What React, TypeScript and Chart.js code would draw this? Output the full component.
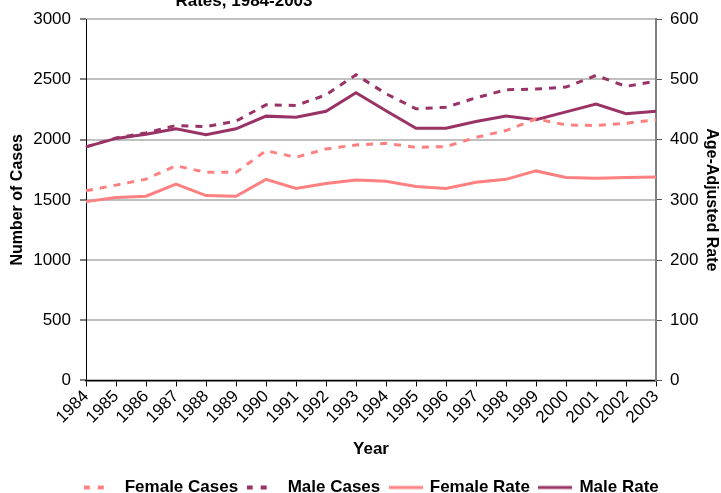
import React, { useEffect, useRef } from "react";
import { Chart, registerables } from "chart.js";

Chart.register(...registerables);

const years = ["1984","1985","1986","1987","1988","1989","1990","1991","1992","1993","1994","1995","1996","1997","1998","1999","2000","2001","2002","2003"];
const femaleCases = [1575, 1622, 1672, 1783, 1728, 1728, 1908, 1853, 1922, 1956, 1969, 1936, 1942, 2019, 2075, 2172, 2122, 2117, 2136, 2164];
const maleCases = [1940, 2014, 2056, 2117, 2108, 2153, 2289, 2283, 2372, 2539, 2381, 2256, 2269, 2347, 2414, 2420, 2436, 2533, 2442, 2486];
const femaleRate = [297, 304, 306, 326, 307, 306, 334, 319, 327, 333, 331, 322, 319, 329, 334, 348, 337, 336, 337, 338];
const maleRate = [388, 402, 409, 418, 408, 418, 439, 437, 447, 478, 448, 419, 419, 430, 439, 433, 446, 459, 443, 447];
const titleText = "Rates, 1984-2003";

const PINK = "#FF8080";
const PURPLE = "#993366";
const FONT = "'Liberation Sans', Arial, Helvetica, sans-serif";

function makeMarker(color: string, dashed: boolean): HTMLCanvasElement {
  const c = document.createElement("canvas");
  c.width = 34;
  c.height = 6;
  const ctx = c.getContext("2d")!;
  ctx.fillStyle = color;
  if (dashed) {
    ctx.fillRect(0, 1, 6, 4);
    ctx.fillRect(14, 1, 6, 4);
  } else {
    ctx.fillRect(0, 1.5, 34, 3);
  }
  return c;
}

const titlePlugin = {
  id: "topTitle",
  afterDraw(chart: any) {
    const ctx = chart.ctx;
    ctx.save();
    ctx.font = `bold 17px ${FONT}`;
    ctx.fillStyle = "#000";
    ctx.textAlign = "center";
    ctx.textBaseline = "alphabetic";
    ctx.fillText(titleText, 244, 6);
    ctx.restore();
  },
};

export default function App() {
  const ref = useRef<HTMLCanvasElement>(null);
  useEffect(() => {
    document.body.style.margin = "0";
    const markers = [
      makeMarker(PINK, true),
      makeMarker(PURPLE, true),
      makeMarker(PINK, false),
      makeMarker(PURPLE, false),
    ];
    const chart = new Chart(ref.current!, {
      type: "line",
      data: {
        labels: years,
        datasets: [
          { label: "Female Cases", data: femaleCases, yAxisID: "y", borderColor: PINK, backgroundColor: PINK, borderWidth: 3, borderDash: [7, 7], pointRadius: 0, tension: 0 },
          { label: "Male Cases", data: maleCases, yAxisID: "y", borderColor: PURPLE, backgroundColor: PURPLE, borderWidth: 3, borderDash: [7, 7], pointRadius: 0, tension: 0 },
          { label: "Female Rate", data: femaleRate, yAxisID: "y1", borderColor: PINK, backgroundColor: PINK, borderWidth: 3, pointRadius: 0, tension: 0 },
          { label: "Male Rate", data: maleRate, yAxisID: "y1", borderColor: PURPLE, backgroundColor: PURPLE, borderWidth: 3, pointRadius: 0, tension: 0 },
        ],
      },
      options: {
        responsive: false,
        animation: false,
        layout: { padding: { top: 19, left: 23, right: 0, bottom: -13 } },
        plugins: {
          tooltip: { enabled: false },
          legend: {
            position: "bottom",
            labels: {
              usePointStyle: true,
              pointStyleWidth: 31,
              padding: 10,
              color: "#000",
              font: { family: FONT, size: 17, weight: "bold" },
              generateLabels: (ch: any) =>
                ch.data.datasets.map((ds: any, i: number) => ({
                  text: ds.label,
                  pointStyle: markers[i],
                  fillStyle: ds.borderColor,
                  strokeStyle: ds.borderColor,
                  lineWidth: 0,
                  fontColor: "#000",
                  hidden: false,
                  datasetIndex: i,
                })),
            },
          },
        },
        scales: {
          x: {
            offset: false,
            grid: { drawOnChartArea: false, drawTicks: true, tickLength: 6, tickColor: "#000", lineWidth: 1 },
            border: { color: "#000", width: 1.5 },
            ticks: { color: "#000", font: { family: FONT, size: 17 }, minRotation: 45, maxRotation: 45, padding: 0, autoSkip: false },
            title: { display: true, text: "Year", color: "#000", font: { family: FONT, size: 17, weight: "bold" }, padding: { top: 12, bottom: 9 } },
          },
          y: {
            position: "left",
            min: 0,
            max: 3000,
            afterFit: (s: any) => { s.width = 63; },
            ticks: { stepSize: 500, color: "#000", font: { family: FONT, size: 17 }, padding: 9, callback: (v: any) => String(v) },
            grid: { color: "#C0C0C0", lineWidth: 2, tickLength: 6, tickColor: "#000", tickWidth: 1 },
            border: { color: "#000", width: 1 },
            title: { display: true, text: "Number of Cases", color: "#000", font: { family: FONT, size: 16, weight: "bold" }, padding: { top: -15, bottom: 0 } },
          },
          y1: {
            position: "right",
            min: 0,
            max: 600,
            afterFit: (s: any) => { s.width = 65; },
            ticks: { stepSize: 100, color: "#000", font: { family: FONT, size: 17 }, padding: 8, callback: (v: any) => String(v) },
            grid: { drawOnChartArea: false, tickLength: 6, tickColor: "#555", tickWidth: 1 },
            border: { color: "#808080", width: 2 },
            title: { display: true, text: "Age-Adjusted Rate", color: "#000", font: { family: FONT, size: 16, weight: "bold" }, padding: 0 },
          },
        },
      },
      plugins: [titlePlugin],
    });
    return () => chart.destroy();
  }, []);
  return (
    <div style={{ width: 721, height: 493, background: "#fff" }}>
      <canvas ref={ref} width={721} height={493} style={{ width: 721, height: 493, display: "block" }} />
    </div>
  );
}
